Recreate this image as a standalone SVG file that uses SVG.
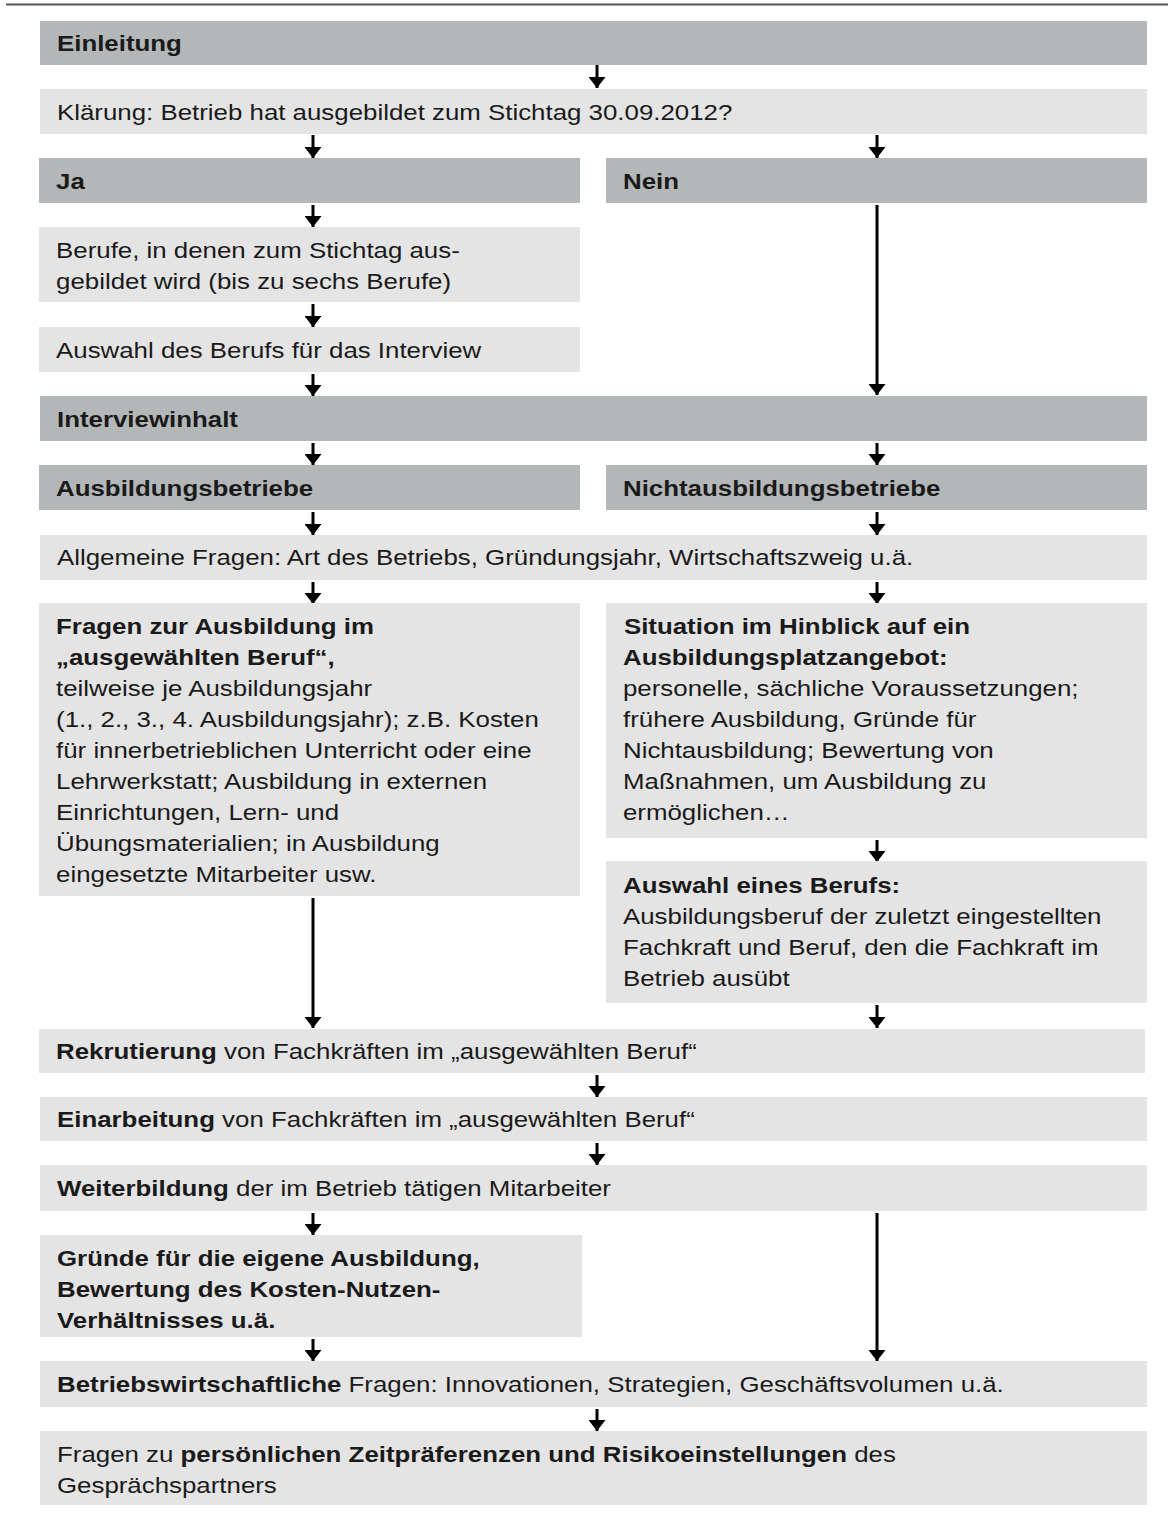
<svg xmlns="http://www.w3.org/2000/svg" width="1168" height="1515" viewBox="0 0 1168 1515">
<defs>
<style>
.dk{fill:#b4b7b8}
.lt{fill:#e4e4e4}
text{font-family:"Liberation Sans",Arial,sans-serif;font-size:22px;fill:#1a1a1a;transform:scale(1.175,1)}
.b{font-weight:bold}
.arr{stroke:#000;stroke-width:3;fill:none;marker-end:url(#ah)}
</style>
<marker id="ah" markerUnits="userSpaceOnUse" markerWidth="11" markerHeight="17" refX="11" refY="8.5" orient="auto" viewBox="0 0 11 17">
<path d="M0,0 L11,8.5 L0,17 Z" fill="#000"/>
</marker>
</defs>
<rect x="0" y="0" width="1168" height="1515" fill="#fff"/>
<line x1="6" y1="4.5" x2="1168" y2="4.5" stroke="#555" stroke-width="2"/>

<g id="connectors">
<path d="M597,65 V88" class="arr"/>
<path d="M313,135 V158" class="arr"/>
<path d="M877,135 V158" class="arr"/>
<path d="M313,205 V227" class="arr"/>
<path d="M313,304 V327" class="arr"/>
<path d="M313,374 V396" class="arr"/>
<path d="M877,205 V395" class="arr"/>
<path d="M313,443 V465" class="arr"/>
<path d="M877,443 V465" class="arr"/>
<path d="M313,512 V535" class="arr"/>
<path d="M877,512 V535" class="arr"/>
<path d="M313,582 V604" class="arr"/>
<path d="M877,582 V604" class="arr"/>
<path d="M877,840 V862" class="arr"/>
<path d="M877,1005 V1028" class="arr"/>
<path d="M313,898 V1028" class="arr"/>
<path d="M597,1075 V1097" class="arr"/>
<path d="M597,1143 V1165" class="arr"/>
<path d="M313,1213 V1235" class="arr"/>
<path d="M313,1339 V1361" class="arr"/>
<path d="M877,1213 V1361" class="arr"/>
<path d="M597,1409 V1431" class="arr"/>
</g>

<g id="einleitung"><rect class="dk" x="40" y="21" width="1107" height="44"/><text class="b" x="48.5" y="51">Einleitung</text></g>
<g id="klaerung"><rect class="lt" x="40" y="89" width="1107" height="45"/><text x="48.5" y="120">Klärung:  Betrieb hat ausgebildet zum  Stichtag 30.09.2012?</text></g>
<g id="ja"><rect class="dk" x="39" y="158" width="541" height="45"/><text class="b" x="47.7" y="189">Ja</text></g>
<g id="nein"><rect class="dk" x="606" y="158" width="541" height="45"/><text class="b" x="530.2" y="189">Nein</text></g>
<g id="berufe"><rect class="lt" x="39" y="227" width="541" height="75"/><text x="47.7" y="258">Berufe,  in denen zum  Stichtag aus-</text><text x="47.7" y="289">gebildet wird (bis zu sechs Berufe)</text></g>
<g id="auswahl"><rect class="lt" x="39" y="327" width="541" height="45"/><text x="47.7" y="358">Auswahl  des Berufs für  das Interview</text></g>
<g id="interviewinhalt"><rect class="dk" x="40" y="396" width="1107" height="45"/><text class="b" x="48.5" y="427">Interviewinhalt</text></g>
<g id="ausbildungsbetriebe"><rect class="dk" x="39" y="465" width="541" height="45"/><text class="b" x="47.7" y="496">Ausbildungsbetriebe</text></g>
<g id="nichtausbildungsbetriebe"><rect class="dk" x="606" y="465" width="541" height="45"/><text class="b" x="530.2" y="496">Nichtausbildungsbetriebe</text></g>
<g id="allgemeine"><rect class="lt" x="40" y="535" width="1107" height="45"/><text x="48.5" y="565">Allgemeine Fragen:  Art des Betriebs, Gründungsjahr,  Wirtschaftszweig  u.ä.</text></g>
<g id="fragen-ausbildung"><rect class="lt" x="39" y="603" width="541" height="293"/>
<text class="b" x="47.7" y="634">Fragen zur Ausbildung im</text>
<text class="b" x="47.7" y="665">„ausgewählten Beruf“,</text>
<text x="47.7" y="696">teilweise je Ausbildungsjahr</text>
<text x="47.7" y="727">(1., 2., 3., 4. Ausbildungsjahr);  z.B. Kosten</text>
<text x="47.7" y="758">für innerbetrieblichen  Unterricht  oder eine</text>
<text x="47.7" y="789">Lehrwerkstatt;  Ausbildung in externen</text>
<text x="47.7" y="820">Einrichtungen,  Lern-  und</text>
<text x="47.7" y="851">Übungsmaterialien;  in Ausbildung</text>
<text x="47.7" y="882">eingesetzte Mitarbeiter usw.</text>
</g>
<g id="situation"><rect class="lt" x="606" y="603" width="541" height="235"/>
<text class="b" x="531" y="634">Situation im Hinblick auf ein</text>
<text class="b" x="530.2" y="665">Ausbildungsplatzangebot:</text>
<text x="530.2" y="696">personelle,  sächliche  Voraussetzungen;</text>
<text x="530.2" y="727">frühere Ausbildung,  Gründe für</text>
<text x="530.2" y="758">Nichtausbildung;  Bewertung  von</text>
<text x="530.2" y="789">Maßnahmen,  um Ausbildung zu</text>
<text x="530.2" y="820">ermöglichen…</text>
</g>
<g id="auswahl-beruf"><rect class="lt" x="606" y="861" width="541" height="142"/>
<text class="b" x="530.2" y="893">Auswahl eines Berufs:</text>
<text x="530.2" y="924">Ausbildungsberuf  der zuletzt  eingestellten</text>
<text x="530.2" y="955">Fachkraft  und  Beruf, den die Fachkraft im</text>
<text x="530.2" y="986">Betrieb ausübt</text>
</g>
<g id="rekrutierung"><rect class="lt" x="39" y="1029" width="1106" height="44"/><text x="47.7" y="1059"><tspan class="b">Rekrutierung</tspan> von  Fachkräften  im „ausgewählten  Beruf“</text></g>
<g id="einarbeitung"><rect class="lt" x="40" y="1097" width="1107" height="44"/><text x="48.5" y="1127"><tspan class="b">Einarbeitung</tspan> von  Fachkräften  im „ausgewählten  Beruf“</text></g>
<g id="weiterbildung"><rect class="lt" x="40" y="1165" width="1107" height="46"/><text x="48.5" y="1196"><tspan class="b">Weiterbildung</tspan>  der im Betrieb tätigen Mitarbeiter</text></g>
<g id="gruende"><rect class="lt" x="40" y="1235" width="542" height="102"/>
<text class="b" x="48.5" y="1266">Gründe für die eigene Ausbildung,</text>
<text class="b" x="48.5" y="1297">Bewertung des Kosten-Nutzen-</text>
<text class="b" x="48.5" y="1328">Verhältnisses u.ä.</text>
</g>
<g id="betriebswirtschaftliche"><rect class="lt" x="40" y="1361" width="1107" height="46"/><text x="48.5" y="1392"><tspan class="b">Betriebswirtschaftliche</tspan> Fragen:  Innovationen,  Strategien,  Geschäftsvolumen  u.ä.</text></g>
<g id="persoenlich"><rect class="lt" x="40" y="1431" width="1107" height="74"/>
<text x="48.5" y="1462">Fragen zu <tspan class="b">persönlichen Zeitpräferenzen und Risikoeinstellungen</tspan> des</text>
<text x="48.5" y="1493">Gesprächspartners</text>
</g>
</svg>
